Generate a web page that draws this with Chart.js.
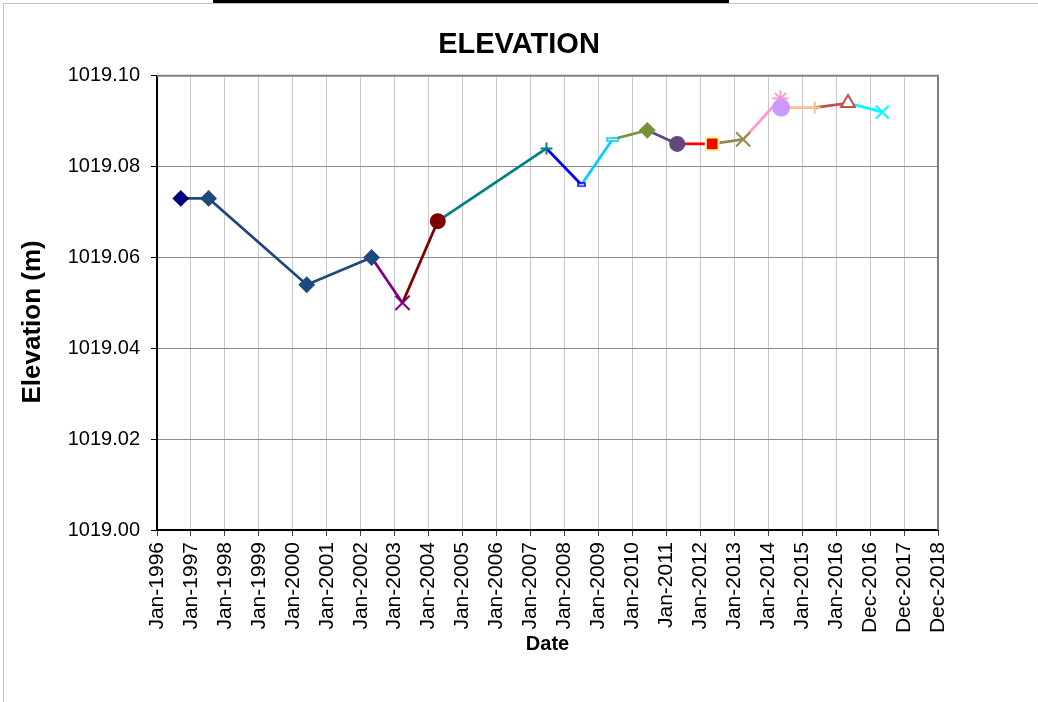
<!DOCTYPE html>
<html>
<head>
<meta charset="utf-8">
<title>Elevation</title>
<script src="https://cdn.jsdelivr.net/npm/chart.js@4.4.0/dist/chart.umd.min.js"></script>
<style>
    html, body { margin: 0; padding: 0; background: #fff; overflow: hidden; }
    #wrap { position: relative; width: 1038px; height: 702px; }
    #frame { position: absolute; left: 3px; top: 3px; right: 0; bottom: 0;
             border-top: 1px solid #c4c4c4; border-left: 1px solid #c4c4c4; }
    #bar { position: absolute; left: 213px; top: 0; width: 516px; height: 3px; background: #000; }
    canvas { position: absolute; left: 0; top: 0; }
</style>
</head>
<body>
<div id="wrap">
    <div id="frame"></div>
    <div id="bar"></div>
    <canvas id="elevChart" width="1038" height="702"></canvas>
</div>
<script>
// Elevation survey chart

const xLabels = ['Jan-1996', 'Jan-1997', 'Jan-1998', 'Jan-1999', 'Jan-2000', 'Jan-2001',
    'Jan-2002', 'Jan-2003', 'Jan-2004', 'Jan-2005', 'Jan-2006', 'Jan-2007', 'Jan-2008',
    'Jan-2009', 'Jan-2010', 'Jan-2011', 'Jan-2012', 'Jan-2013', 'Jan-2014', 'Jan-2015',
    'Jan-2016', 'Dec-2016', 'Dec-2017', 'Dec-2018'];

// survey dates as positions on the date axis (one unit per label)
const surveyDates = [1996.70, 1997.52, 2000.41, 2002.32, 2003.23, 2004.27, 2007.47, 2008.50,
    2009.41, 2010.44, 2011.32, 2012.35, 2013.26, 2014.36, 2014.38, 2015.37, 2016.35, 2017.36];
const elevations = [1019.073, 1019.073, 1019.054, 1019.060, 1019.050, 1019.068, 1019.084, 1019.076,
    1019.086, 1019.088, 1019.085, 1019.085, 1019.086, 1019.095, 1019.093, 1019.093, 1019.094, 1019.092];

// every series joins the previous reading to its own one(s)
const seriesFirst = [0, 0, 3, 4, 5, 6, 7, 8, 9, 10, 11, 12, 13, 14, 15, 16];
const seriesLast = [0, 3, 4, 5, 6, 7, 8, 9, 10, 11, 12, 13, 14, 15, 16, 17];

// small hollow bar, like the excel "dash" marker
function dashMarker(color, w, h) {
    const c = document.createElement('canvas');
    c.width = w + 2;
    c.height = h + 2;
    const g = c.getContext('2d');
    g.fillStyle = '#fff';
    g.fillRect(1, 1, w, h);
    g.strokeStyle = color;
    g.lineWidth = 1.5;
    g.strokeRect(1, 1, w, h);
    return c;
}

const seriesStyles = [
    { color: '#000080', marker: 'rectRot', size: 7 },
    { color: '#1F497D', marker: 'rectRot', size: 7 },
    { color: '#800080', marker: 'crossRot', size: 10 },
    { color: '#800000', marker: 'circle', size: 7 },
    { color: '#008080', marker: 'cross', size: 6 },
    { color: '#0000FF', marker: dashMarker('#0000FF', 7, 3) },
    { color: '#00CCFF', marker: dashMarker('#00CCFF', 11, 3) },
    { color: '#77933C', marker: 'rectRot', size: 7 },
    { color: '#604A7B', marker: 'circle', size: 7 },
    { color: '#FF0000', marker: 'rect', size: 9, edge: '#FFFF99' },
    { color: '#948A54', marker: 'crossRot', size: 10 },
    { color: '#FF99CC', marker: 'star', size: 8 },
    { color: '#CC99FF', marker: 'circle', size: 8, onTop: true },
    { color: '#FAC090', marker: 'cross', size: 6 },
    { color: '#C0504D', marker: 'triangle', size: 8, hollow: true },
    { color: '#00FFFF', marker: 'crossRot', size: 9 }
];

const datasets = seriesFirst.map((first, s) => {
    const style = seriesStyles[s];
    const idx = [];
    for (let i = first; i <= seriesLast[s]; i++) idx.push(i);
    return {
        label: 'Series ' + (s + 1),
        data: idx.map(i => ({ x: surveyDates[i], y: elevations[i] })),
        borderColor: style.color,
        borderWidth: 2.7,
        showLine: true,
        tension: 0,
        pointStyle: style.marker,
        // no marker on the joining start point
        pointRadius: idx.map(i => (i === first && idx.length > 1) ? 0 : (style.size || 6)),
        pointBackgroundColor: style.hollow ? '#fff' : style.color,
        pointBorderColor: style.edge || style.color,
        pointBorderWidth: 2,
        order: style.onTop ? -1 : 0
    };
});

const font = 'Liberation Sans, Arial, sans-serif';

// grey top and right edges of the plot area
const plotFrame = {
    id: 'plotFrame',
    beforeDatasetsDraw(chart) {
        const { ctx, chartArea: a } = chart;
        ctx.save();
        ctx.strokeStyle = '#808080';
        ctx.lineWidth = 2;
        ctx.beginPath();
        ctx.moveTo(a.left, a.top);
        ctx.lineTo(a.right, a.top);
        ctx.lineTo(a.right, a.bottom);
        ctx.stroke();
        ctx.restore();
    }
};

// vertical axis title, sitting a bit below the plot's middle like the excel one
const yAxisTitle = {
    id: 'yAxisTitle',
    afterDraw(chart) {
        const { ctx, chartArea: a } = chart;
        ctx.save();
        ctx.translate(33, (a.top + a.bottom) / 2 + 19);
        ctx.rotate(-Math.PI / 2);
        ctx.font = 'bold 26px ' + font;
        ctx.fillStyle = '#000';
        ctx.textAlign = 'center';
        ctx.textBaseline = 'middle';
        ctx.fillText('Elevation (m)', 0, 0);
        ctx.restore();
    }
};

new Chart(document.getElementById('elevChart'), {
    type: 'line',
    data: { datasets: datasets },
    plugins: [plotFrame, yAxisTitle],
    options: {
        responsive: false,
        animation: false,
        layout: { padding: 0 },
        plugins: {
            legend: { display: false },
            tooltip: { enabled: false },
            title: {
                display: true,
                text: 'ELEVATION',
                color: '#000',
                font: { family: font, size: 29, weight: 'bold' },
                padding: { top: 28, bottom: 13 }
            }
        },
        scales: {
            x: {
                type: 'linear',
                min: 1996,
                max: 2019,
                ticks: {
                    stepSize: 1,
                    maxTicksLimit: 30,
                    autoSkip: false,
                    minRotation: 90,
                    maxRotation: 90,
                    padding: 6,
                    color: '#000',
                    font: { family: font, size: 21 },
                    callback: v => xLabels[Math.round(v - 1996)]
                },
                grid: { color: '#C8C8C8', lineWidth: 1, tickLength: 6, tickColor: '#404040' },
                border: { color: '#000', width: 2 },
                title: {
                    display: true,
                    text: 'Date',
                    color: '#000',
                    font: { family: font, size: 20, weight: 'bold' },
                    padding: { top: 0, bottom: 46 }
                },
                afterFit: s => { s.height = 172; }
            },
            y: {
                min: 1019.00,
                max: 1019.10,
                ticks: {
                    stepSize: 0.02,
                    padding: 11,
                    color: '#000',
                    font: { family: font, size: 20 },
                    callback: v => v.toFixed(2)
                },
                grid: { color: '#8C8C8C', lineWidth: 1, tickLength: 6, tickColor: '#000' },
                border: { color: '#000', width: 2 },
                afterFit: s => { s.width = 157; }
            },
            // empty right-hand box that keeps the plot clear of the right edge
            yRight: {
                position: 'right',
                ticks: { display: false },
                grid: { display: false },
                border: { display: false },
                afterFit: s => { s.width = 100; }
            }
        }
    }
});
</script>
</body>
</html>
